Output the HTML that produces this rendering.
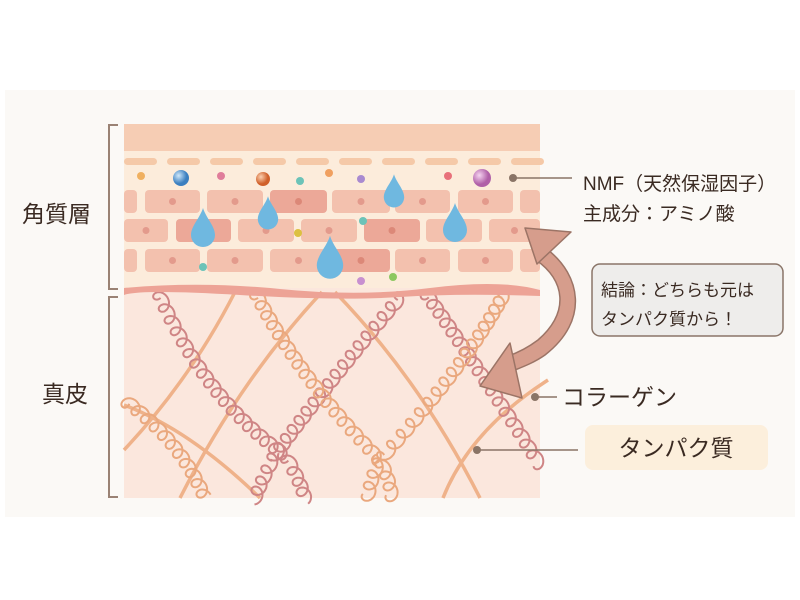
<!DOCTYPE html>
<html><head><meta charset="utf-8">
<style>
html,body{margin:0;padding:0;background:#fff;}
body{width:800px;height:600px;position:relative;overflow:hidden;font-family:"Liberation Sans","Noto Sans CJK JP",sans-serif;color:#3a2a22;}
</style></head><body>
<svg width="800" height="600" viewBox="0 0 800 600" xmlns="http://www.w3.org/2000/svg" style="position:absolute;left:0;top:0">
<rect x="5" y="90" width="790" height="427" fill="#fbf9f6"/>
<rect x="124" y="285" width="416" height="213" fill="#fbe7dd"/>
<g id="coils" fill="none"></g>
<rect x="124" y="124" width="416" height="27" fill="#f6cdb4"/>
<rect x="124" y="151" width="416" height="137" fill="#fcecdb"/>
<g fill="#f5c9a8" id="dashes"></g>
<g id="bricks"></g>
<path d="M124,288 Q200,281 280,289 T430,288 T540,290 L540,296 Q460,293 400,297 T240,295 T124,295 Z" fill="#eda396"/>
<g>
<circle cx="141" cy="176" r="4" fill="#f0b060"/>
<circle cx="221" cy="176" r="4" fill="#e07d9a"/>
<circle cx="300" cy="181" r="4" fill="#6cc3b8"/>
<circle cx="329" cy="173" r="4" fill="#f0a060"/>
<circle cx="361" cy="179" r="4" fill="#a98ad0"/>
<circle cx="448" cy="176" r="4" fill="#e8707a"/>
<circle cx="363" cy="221" r="4" fill="#6cc3b8"/>
<circle cx="298" cy="233" r="4" fill="#dcc040"/>
<circle cx="203" cy="267" r="4" fill="#6cc3b8"/>
<circle cx="361" cy="281" r="4" fill="#c890d0"/>
<circle cx="393" cy="277" r="4" fill="#8cc860"/>
<defs>
<radialGradient id="gb" cx="0.35" cy="0.35"><stop offset="0" stop-color="#cfe8fa"/><stop offset="1" stop-color="#3b7fc0"/></radialGradient>
<radialGradient id="go" cx="0.35" cy="0.35"><stop offset="0" stop-color="#fbd0b0"/><stop offset="1" stop-color="#d0602a"/></radialGradient>
<radialGradient id="gp" cx="0.35" cy="0.35"><stop offset="0" stop-color="#f6d4f0"/><stop offset="1" stop-color="#b060a8"/></radialGradient>
</defs>
<circle cx="181" cy="178" r="8" fill="url(#gb)"/>
<circle cx="263" cy="179" r="7" fill="url(#go)"/>
<circle cx="482" cy="178" r="9" fill="url(#gp)"/>
</g>
<g id="drops" fill="#6fb8e0"></g>
<g fill="#d69d8c" stroke="#9c7466" stroke-width="1.5" stroke-linejoin="round">
<path d="M548,250 C580,275 590,320 545,355 C535,362 525,366 515,370 L508,356 C520,352 530,346 538,340 C570,312 565,280 536,260 Z"/>
<polygon points="525,228 571,232 537,264"/>
<polygon points="480,386 510,343 522,398"/>
</g>
<g stroke="#9a8274" stroke-width="2" fill="none">
<path d="M118,125 H109 V289 H118"/>
<path d="M118,297 H109 V497 H118"/>
</g>
<g stroke="#8a7466" stroke-width="1.5">
<line x1="513" y1="178" x2="572" y2="178"/>
<line x1="535" y1="397" x2="557" y2="397"/>
<line x1="477" y1="450" x2="578" y2="450"/>
</g>
<circle cx="513" cy="178" r="4" fill="#8a7466"/>
<circle cx="535" cy="397" r="4" fill="#8a7466"/>
<circle cx="477" cy="450" r="4" fill="#8a7466"/>
<rect x="592" y="264" width="191" height="72" rx="8" fill="#eeedeb" stroke="#8a7568" stroke-width="1.5"/>
<rect x="585" y="425" width="183" height="45" rx="8" fill="#fcefdc"/>
<g font-family="Liberation Sans, Noto Sans CJK JP, sans-serif" fill="#3a2a22">
<text x="583" y="190" font-size="19">NMF（天然保湿因子）</text>
<text x="583" y="220" font-size="19">主成分：アミノ酸</text>
<text x="601" y="296" font-size="17">結論：どちらも元は</text>
<text x="601" y="325" font-size="17">タンパク質から！</text>
<text x="562" y="405" font-size="23">コラーゲン</text>
<text x="676" y="456" font-size="23" text-anchor="middle">タンパク質</text>
<text x="22" y="222" font-size="23">角質層</text>
<text x="42" y="402" font-size="23">真皮</text>
</g>
</svg>
<script>
var NS="http://www.w3.org/2000/svg";
function el(p,t,a){var e=document.createElementNS(NS,t);for(var k in a)e.setAttribute(k,a[k]);p.appendChild(e);return e;}
var d=document.getElementById('dashes');
for(var x=124;x<530;x+=43){el(d,'rect',{x:x,y:158,width:33,height:7,rx:3.5});}
var b=document.getElementById('bricks');
var rowA=[[124,137],[145,200],[207,263],[270,327],[332,390],[395,450],[458,513],[520,540]];
var rowB=[[124,168],[176,231],[238,294],[301,357],[364,420],[426,482],[489,540]];
var rows=[[190,rowA,[3]],[219,rowB,[1,4]],[249,rowA,[4]]];
rows.forEach(function(r){r[1].forEach(function(s,i){
 var dark=r[2].indexOf(i)>=0;
 el(b,'rect',{x:s[0],y:r[0],width:s[1]-s[0],height:23,rx:4,fill:dark?'#eca898':'#f3c1ae'});
 if(s[1]-s[0]>40) el(b,'circle',{cx:(s[0]+s[1])/2,cy:r[0]+11.5,r:3.5,fill:dark?'#dc8878':'#e39a8c'});
});});
var dr=document.getElementById('drops');
[[203,227,1],[268,212,0.85],[394,190,0.85],[455,222,1],[330,257,1.1]].forEach(function(p){
 var s=p[2],x=p[0],y=p[1];
 el(dr,'path',{d:'M0,-22 C3,-12 12,-4 12,5 A12,12 0 0 1 -12,5 C-12,-4 -3,-12 0,-22Z',transform:'translate('+x+','+(y+3)+') scale('+s+')'});
});
var cg=document.getElementById('coils');
function q(p,t){var a=(1-t)*(1-t),b2=2*t*(1-t),c=t*t;return [a*p[0]+b2*p[2]+c*p[4],a*p[1]+b2*p[3]+c*p[5]];}
function coil(p,col){
 var pts=[],N=400,len=0,prev=q(p,0);
 for(var i=1;i<=N;i++){var c=q(p,i/N);len+=Math.hypot(c[0]-prev[0],c[1]-prev[1]);prev=c;}
 var steps=Math.round(len*3);
 for(var i=0;i<=steps;i++){var t=i/steps,c=q(p,t),n2=q(p,Math.min(1,t+0.001)),n1=q(p,Math.max(0,t-0.001));
  var tx=n2[0]-n1[0],ty=n2[1]-n1[1],l=Math.hypot(tx,ty);tx/=l;ty/=l;
  var s=t*len,ph=s*2*Math.PI/12,r=6.5;
  pts.push((c[0]+tx*r*Math.cos(ph)-ty*r*Math.sin(ph)).toFixed(1)+','+(c[1]+ty*r*Math.cos(ph)+tx*r*Math.sin(ph)).toFixed(1));}
 el(cg,'path',{d:'M'+pts.join(' L'),stroke:col,'stroke-width':2});
}
function line(p,col){el(cg,'path',{d:'M'+p[0]+','+p[1]+' Q'+p[2]+','+p[3]+' '+p[4]+','+p[5],stroke:col,'stroke-width':3.5});}
var O='#efb28a',D='#cf8585',OC='#eaa87e';
line([235,292,190,380,124,450],O);
line([322,292,240,380,180,498],O);
line([335,292,420,380,480,498],O);
line([548,380,470,430,443,498],O);
line([124,405,190,430,260,498],O);
coil([158,292,205,400,285,455],D);
coil([285,455,300,480,305,498],D);
coil([402,295,330,380,275,455],D);
coil([275,455,262,480,255,498],D);
coil([425,292,480,370,540,465],D);
coil([255,292,300,380,380,460],OC);
coil([380,460,390,480,392,498],OC);
coil([505,292,470,360,380,460],OC);
coil([380,460,370,480,368,498],OC);
coil([124,400,180,440,205,498],OC);
</script>
</body></html>
